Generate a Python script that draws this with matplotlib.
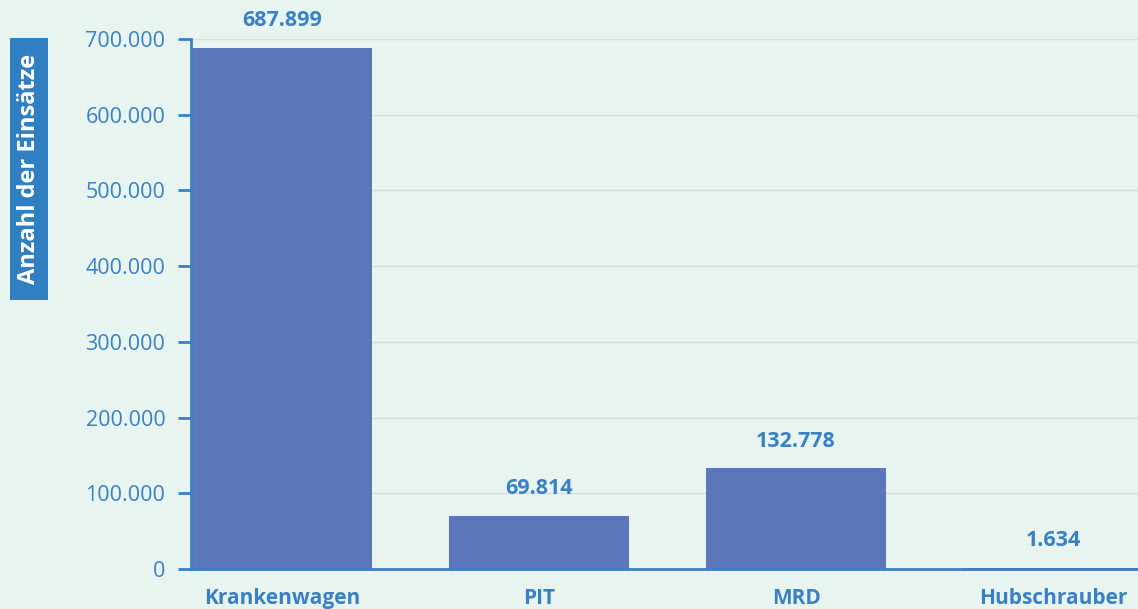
import matplotlib.pyplot as plt
from matplotlib.patches import Rectangle
from matplotlib.ticker import FuncFormatter

# Einsätze nach Rettungsmittel
kategorien = ['Krankenwagen', 'PIT', 'MRD', 'Hubschrauber']
einsaetze = [687899, 69814, 132778, 1634]

BG = '#e8f4f0'
BAR = '#5b77b9'
BLAU = '#3a80c4'

plt.rcParams['font.family'] = ['Open Sans', 'DejaVu Sans']

fig = plt.figure(figsize=(11.38, 6.09), dpi=100, facecolor=BG)
ax = fig.add_axes([191 / 1138, 1 - 569 / 609, 1 - 191 / 1138, (569 - 39) / 609])
ax.set_facecolor(BG)

x = range(len(kategorien))
bars = ax.bar(x, einsaetze, width=0.7, color=BAR, zorder=3)

def punkt(v):
    return f'{v:,.0f}'.replace(',', '.')

for b, v in zip(bars, einsaetze):
    ax.annotate(punkt(v), (b.get_x() + b.get_width() / 2, v),
                xytext=(0, 12), textcoords='offset points',
                ha='center', va='bottom', fontsize=15.5, fontweight='bold',
                color=BLAU, annotation_clip=False)

ax.set_xlim(-0.354, 3.33)
ax.set_ylim(0, 700000)
ax.set_yticks(range(0, 700001, 100000))
ax.yaxis.set_major_formatter(FuncFormatter(lambda v, p: punkt(v)))
ax.set_xticks(list(x))
ax.set_xticklabels(kategorien, fontweight='bold')

ax.grid(axis='y', color='#d6dedb', linewidth=1, zorder=0)
for s in ['top', 'right']:
    ax.spines[s].set_visible(False)
for s in ['left', 'bottom']:
    ax.spines[s].set_color(BLAU)
    ax.spines[s].set_linewidth(2)
    ax.spines[s].set_zorder(4)

ax.tick_params(axis='y', colors=BLAU, labelsize=15.5, length=9.5, width=2, pad=9)
ax.tick_params(axis='x', colors=BLAU, labelsize=15, length=0, pad=14)

# Achsentitel im blauen Kasten
fig.patches.append(Rectangle((10 / 1138, 1 - 300 / 609), 38 / 1138, 262 / 609,
                             transform=fig.transFigure, facecolor='#2f7fc1',
                             edgecolor='none'))
fig.text(29 / 1138, 1 - 169 / 609, 'Anzahl der Einsätze', rotation=90,
         ha='center', va='center', color='white', fontsize=17, fontweight='bold')

fig.savefig('out.png', dpi=100, facecolor=BG)
